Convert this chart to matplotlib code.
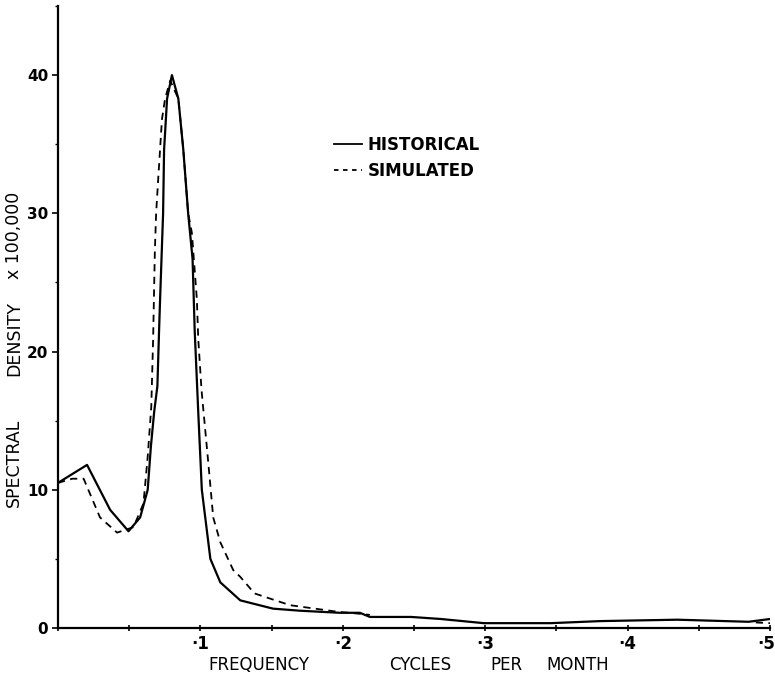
import numpy as np
import matplotlib
matplotlib.use("Agg")
import matplotlib.pyplot as plt
import matplotlib.transforms as mtransforms
from matplotlib.lines import Line2D
from matplotlib.ticker import MultipleLocator, FixedLocator

# ---- data ----
hist_freq = [0.0, 0.0204, 0.0366, 0.0495, 0.0577, 0.063, 0.0652, 0.0675, 0.0698, 0.0710,
             0.0717, 0.0738, 0.0745, 0.0766, 0.080, 0.0845, 0.088, 0.0914, 0.0945, 0.0960,
             0.0985, 0.101, 0.107, 0.114, 0.128, 0.151, 0.170, 0.198, 0.212, 0.219,
             0.248, 0.269, 0.299, 0.346, 0.381, 0.435, 0.485, 0.5]
hist_dens = [10.5, 11.8, 8.55, 7.0, 8.0, 10.0, 13.1, 15.6, 17.5, 21.6,
             23.8, 30.0, 34.6, 38.3, 40.0, 38.3, 34.6, 30.0, 26.7, 21.5,
             15.6, 10.0, 5.0, 3.3, 2.0, 1.4, 1.25, 1.1, 1.1, 0.8,
             0.8, 0.65, 0.35, 0.35, 0.5, 0.6, 0.45, 0.65]

sim_freq = [0.0, 0.010, 0.018, 0.0295, 0.0415, 0.053, 0.060, 0.063, 0.0655, 0.0668,
            0.068, 0.0689, 0.0705, 0.0730, 0.0752, 0.0788, 0.0845, 0.088, 0.0914, 0.094,
            0.0975, 0.0985, 0.1008, 0.1055, 0.109, 0.114, 0.123, 0.128, 0.138, 0.163,
            0.198, 0.205, 0.219, 0.220, 0.490, 0.5]
sim_dens = [10.5, 10.8, 10.8, 8.0, 6.9, 7.3, 9.0, 12.4, 16.0, 20.9,
            27.2, 30.0, 32.7, 36.8, 38.3, 39.6, 38.3, 34.6, 30.0, 28.6,
            23.8, 20.9, 17.2, 12.0, 8.0, 6.2, 4.2, 3.7, 2.5, 1.65,
            1.15, 1.1, 0.95, np.nan, 0.4, 0.35]

x_ticks = [0.1, 0.2, 0.3, 0.4, 0.5]
x_tick_labels = ["·1", "·2", "·3", "·4", "·5"]
y_ticks = [0, 10, 20, 30, 40]
y_tick_labels = ["0", "10", "20", "30", "40"]
series_labels = ["HISTORICAL", "SIMULATED"]
x_label_words = ["FREQUENCY", "CYCLES", "PER", "MONTH"]
y_label_words = ["SPECTRAL", "DENSITY", "x 100,000"]

# ---- figure ----
W, H = 775, 681
fig = plt.figure(figsize=(W / 100, H / 100), dpi=100)
ax = fig.add_axes([58 / W, 53 / H, 712 / W, 622 / H])

ax.plot(hist_freq, hist_dens, color="black", lw=1.6, solid_joinstyle="round")
ax.plot(sim_freq, sim_dens, color="black", lw=1.3, dashes=(4, 3))

ax.set_xlim(0, 0.5)
ax.set_ylim(0, 45)
for s in ["top", "right"]:
    ax.spines[s].set_visible(False)
ax.spines["left"].set_linewidth(1.6)
ax.spines["bottom"].set_linewidth(1.6)

ax.xaxis.set_major_locator(FixedLocator(x_ticks))
ax.set_xticklabels(x_tick_labels, fontsize=12, fontweight="bold")
ax.xaxis.set_minor_locator(MultipleLocator(0.05))
ax.yaxis.set_major_locator(FixedLocator(y_ticks))
ax.set_yticklabels(y_tick_labels, fontsize=11, fontweight="bold")
ax.yaxis.set_minor_locator(MultipleLocator(5))
ax.tick_params(axis="x", which="both", direction="inout", length=4, width=1.2, pad=3)
ax.tick_params(axis="y", which="major", direction="out", length=4, width=1.2, pad=3)
ax.tick_params(axis="y", which="minor", direction="out", length=2, width=1.0)

# keep the last x tick label inside the figure edge
last = ax.get_xticklabels()[-1]
last.set_transform(last.get_transform() +
                   mtransforms.ScaledTranslation(-4 / 100, 0, fig.dpi_scale_trans))

# x axis label words (spaced as in the original)
x_label_centers = [259, 420, 506, 578]
for word, cx in zip(x_label_words, x_label_centers):
    fig.text(cx / W, 1 - 665 / H, word, ha="center", va="center", fontsize=12)

# y axis label words
y_label_centers = [463, 339, 235]
for word, cy in zip(y_label_words, y_label_centers):
    fig.text(14 / W, 1 - cy / H, word, ha="center", va="center",
             rotation=90, fontsize=12.5)

handles = [Line2D([], [], color="black", lw=1.3),
           Line2D([], [], color="black", lw=1.3, dashes=(2.5, 2.5))]
leg = ax.legend(handles, series_labels, loc="upper left",
                bbox_to_anchor=((319 - 58) / 712, (628 - 121) / 622),
                frameon=False, handlelength=1.7, handletextpad=0.3,
                labelspacing=0.45, prop={"size": 12, "weight": "bold"})

fig.savefig("out.png", dpi=100)
